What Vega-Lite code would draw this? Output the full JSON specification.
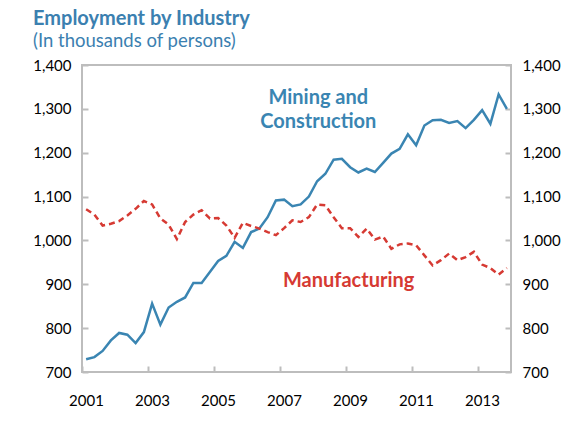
{
  "$schema": "https://vega.github.io/schema/vega-lite/v6.json",
  "width": 429,
  "height": 307,
  "autosize": {"type": "none"},
  "padding": {"left": 82, "top": 65, "right": 71, "bottom": 49},
  "background": "white",
  "title": {
    "text": "Employment by Industry",
    "subtitle": "(In thousands of persons)",
    "anchor": "start",
    "frame": "group",
    "dx": -49,
    "font": "Lato",
    "fontSize": 20,
    "fontWeight": "bold",
    "color": "#3b80b0",
    "subtitleFont": "Lato",
    "subtitleFontSize": 18.5,
    "subtitleColor": "#3b80b0",
    "subtitlePadding": 3,
    "offset": 8
  },
  "config": {
    "view": {"stroke": "#bdbdbd", "strokeWidth": 2},
    "axis": {
      "labelFont": "Lato",
      "labelFontSize": 15,
      "labelColor": "#000000",
      "labelFlush": false,
      "labelOverlap": false,
      "domain": false,
      "grid": false,
      "tickColor": "#bdbdbd",
      "tickWidth": 2,
      "tickSize": -6,
      "title": null
    }
  },
  "data": {
    "values": [
      {"year": 2001.125, "mining": 729, "manufacturing": 1071},
      {"year": 2001.375, "mining": 734, "manufacturing": 1059},
      {"year": 2001.625, "mining": 748, "manufacturing": 1034},
      {"year": 2001.875, "mining": 772, "manufacturing": 1038},
      {"year": 2002.125, "mining": 789, "manufacturing": 1044},
      {"year": 2002.375, "mining": 785, "manufacturing": 1057},
      {"year": 2002.625, "mining": 766, "manufacturing": 1072},
      {"year": 2002.875, "mining": 791, "manufacturing": 1090},
      {"year": 2003.125, "mining": 856, "manufacturing": 1082},
      {"year": 2003.375, "mining": 808, "manufacturing": 1050},
      {"year": 2003.625, "mining": 847, "manufacturing": 1036},
      {"year": 2003.875, "mining": 860, "manufacturing": 1003},
      {"year": 2004.125, "mining": 870, "manufacturing": 1042},
      {"year": 2004.375, "mining": 903, "manufacturing": 1059},
      {"year": 2004.625, "mining": 903, "manufacturing": 1069},
      {"year": 2004.875, "mining": 928, "manufacturing": 1050},
      {"year": 2005.125, "mining": 953, "manufacturing": 1051},
      {"year": 2005.375, "mining": 965, "manufacturing": 1034},
      {"year": 2005.625, "mining": 997, "manufacturing": 1006},
      {"year": 2005.875, "mining": 983, "manufacturing": 1040},
      {"year": 2006.125, "mining": 1019, "manufacturing": 1033},
      {"year": 2006.375, "mining": 1027, "manufacturing": 1027},
      {"year": 2006.625, "mining": 1053, "manufacturing": 1019},
      {"year": 2006.875, "mining": 1091, "manufacturing": 1012},
      {"year": 2007.125, "mining": 1093, "manufacturing": 1028},
      {"year": 2007.375, "mining": 1078, "manufacturing": 1046},
      {"year": 2007.625, "mining": 1082, "manufacturing": 1042},
      {"year": 2007.875, "mining": 1100, "manufacturing": 1053},
      {"year": 2008.125, "mining": 1135, "manufacturing": 1082},
      {"year": 2008.375, "mining": 1152, "manufacturing": 1080},
      {"year": 2008.625, "mining": 1184, "manufacturing": 1053},
      {"year": 2008.875, "mining": 1186, "manufacturing": 1028},
      {"year": 2009.125, "mining": 1167, "manufacturing": 1028},
      {"year": 2009.375, "mining": 1155, "manufacturing": 1008},
      {"year": 2009.625, "mining": 1164, "manufacturing": 1027},
      {"year": 2009.875, "mining": 1156, "manufacturing": 1002},
      {"year": 2010.125, "mining": 1177, "manufacturing": 1009},
      {"year": 2010.375, "mining": 1198, "manufacturing": 981},
      {"year": 2010.625, "mining": 1209, "manufacturing": 991},
      {"year": 2010.875, "mining": 1242, "manufacturing": 993},
      {"year": 2011.125, "mining": 1217, "manufacturing": 989},
      {"year": 2011.375, "mining": 1262, "manufacturing": 966},
      {"year": 2011.625, "mining": 1274, "manufacturing": 943},
      {"year": 2011.875, "mining": 1275, "manufacturing": 955},
      {"year": 2012.125, "mining": 1268, "manufacturing": 970},
      {"year": 2012.375, "mining": 1272, "manufacturing": 955},
      {"year": 2012.625, "mining": 1256, "manufacturing": 962},
      {"year": 2012.875, "mining": 1275, "manufacturing": 974},
      {"year": 2013.125, "mining": 1297, "manufacturing": 945},
      {"year": 2013.375, "mining": 1266, "manufacturing": 937},
      {"year": 2013.625, "mining": 1333, "manufacturing": 922},
      {"year": 2013.875, "mining": 1300, "manufacturing": 937}
    ]
  },
  "encoding": {
    "x": {
      "field": "year",
      "type": "quantitative",
      "scale": {"domain": [2001, 2014], "nice": false, "zero": false},
      "axis": {
        "values": [2001, 2003, 2005, 2007, 2009, 2011, 2013],
        "format": "d",
        "labelOffset": 4,
        "labelPadding": 27
      }
    }
  },
  "layer": [
    {
      "mark": {"type": "line", "color": "#3a85b2", "strokeWidth": 2.5},
      "encoding": {
        "y": {
          "field": "mining",
          "type": "quantitative",
          "scale": {"domain": [700, 1400], "nice": false, "zero": false},
          "axis": {
            "orient": "left",
            "values": [700, 800, 900, 1000, 1100, 1200, 1300, 1400],
            "format": ",.0f",
            "labelPadding": 17
          }
        }
      }
    },
    {
      "mark": {"type": "line", "color": "#d63a33", "strokeWidth": 2.5, "strokeDash": [6, 4]},
      "encoding": {
        "y": {
          "field": "manufacturing",
          "type": "quantitative",
          "scale": {"domain": [700, 1400], "nice": false, "zero": false},
          "axis": {
            "orient": "right",
            "values": [700, 800, 900, 1000, 1100, 1200, 1300, 1400],
            "format": ",.0f",
            "labelPadding": 17
          }
        }
      }
    },
    {
      "data": {
        "values": [
          {"year": 2008.16, "value": 1325, "label": "Mining and", "series": "mining"},
          {"year": 2008.16, "value": 1270, "label": "Construction", "series": "mining"},
          {"year": 2009.08, "value": 907, "label": "Manufacturing", "series": "manufacturing"}
        ]
      },
      "mark": {"type": "text", "font": "Lato", "fontSize": 20, "fontWeight": "bold", "align": "center", "baseline": "middle"},
      "encoding": {
        "y": {
          "field": "value",
          "type": "quantitative",
          "scale": {"domain": [700, 1400], "nice": false, "zero": false},
          "axis": null
        },
        "text": {"field": "label"},
        "color": {
          "field": "series",
          "type": "nominal",
          "scale": {"domain": ["mining", "manufacturing"], "range": ["#3a85b2", "#d63a33"]},
          "legend": null
        }
      }
    }
  ],
  "resolve": {"scale": {"y": "independent"}}
}
